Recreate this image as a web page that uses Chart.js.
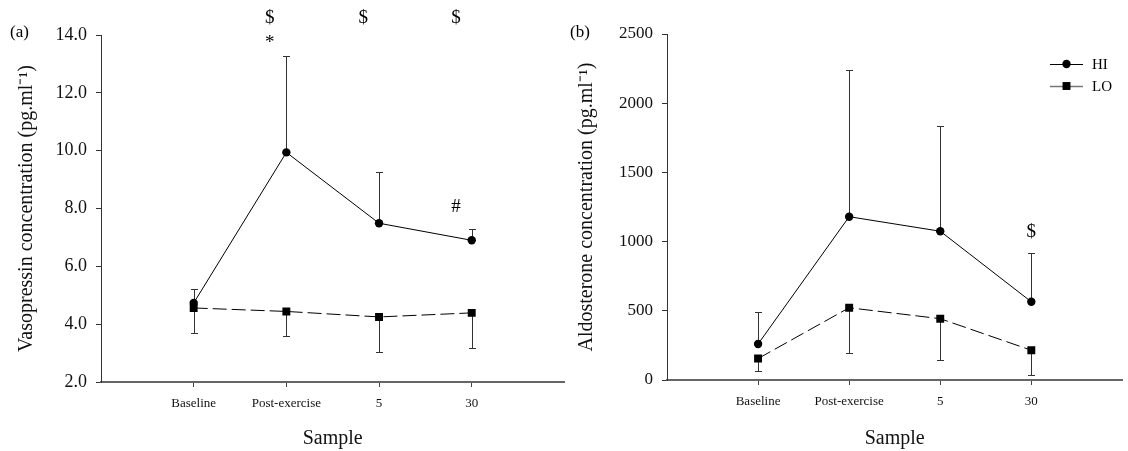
<!DOCTYPE html>
<html>
<head>
<meta charset="utf-8">
<title>Vasopressin and aldosterone by sample</title>
<script src="https://cdn.jsdelivr.net/npm/chart.js@4.4.0/dist/chart.umd.min.js"></script>
<style>
  html, body { margin: 0; padding: 0; background: #fff; }
  #wrap { position: relative; width: 1128px; height: 451px; overflow: hidden; }
  .pane { position: absolute; top: 0; height: 451px; }
  #paneA { left: 0; width: 570px; }
  #paneB { left: 560px; width: 568px; }
</style>
</head>
<body>
<div id="wrap">
  <div class="pane" id="paneA"><canvas id="chartA" width="570" height="451"></canvas></div>
  <div class="pane" id="paneB"><canvas id="chartB" width="568" height="451"></canvas></div>
</div>
<script>
// ---- data ----
const samples = ['Baseline', 'Post-exercise', '5', '30'];
const groupNames = ['HI', 'LO'];

// (a) vasopressin, pg.ml-1 (HI: mean + upper SD, LO: mean - lower SD)
const vasoHI = [4.73, 9.94, 7.49, 6.90];
const vasoHIErr = [0.47, 3.33, 1.78, 0.39];
const vasoLO = [4.56, 4.44, 4.25, 4.39];
const vasoLOErr = [0.87, 0.84, 1.21, 1.20];
const vasoTicks = [2, 4, 6, 8, 10, 12, 14];

// (b) aldosterone, pg.ml-1
const aldoHI = [260, 1180, 1075, 565];
const aldoHIErr = [230, 1057, 757, 350];
const aldoLO = [155, 522, 443, 215];
const aldoLOErr = [87, 325, 301, 182];
const aldoTicks = [0, 500, 1000, 1500, 2000, 2500];

// significance symbols: text, x (sample index), y (axis value)
const vasoNoteText = ['$', '$', '$', '*', '#'];
const vasoNoteX = [0.82, 1.83, 2.83, 0.82, 2.83];
const vasoNoteY = [14.58, 14.58, 14.58, 13.74, 8.06];
const aldoNoteText = ['$'];
const aldoNoteX = [3];
const aldoNoteY = [1070];

// ---- drawing helpers ----
const SERIF = '"Liberation Serif", "Times New Roman", serif';

function points(values) {
  return values.map((v, i) => ({ x: i, y: v }));
}

function groupDatasets(hi, hiErr, lo, loErr) {
  return [
    {
      label: groupNames[0], data: points(hi), err: hiErr, errDir: 1,
      borderColor: '#000', borderWidth: 1, tension: 0, fill: false,
      pointStyle: 'circle', pointRadius: 4.2, pointBackgroundColor: '#000',
      pointBorderWidth: 0, pointHoverRadius: 4.2
    },
    {
      label: groupNames[1], data: points(lo), err: loErr, errDir: -1,
      borderColor: '#000', borderWidth: 1, borderDash: [14, 5], tension: 0, fill: false,
      pointStyle: 'rect', pointRadius: 5.6, pointBackgroundColor: '#000',
      pointBorderWidth: 0, pointHoverRadius: 5.6
    }
  ];
}

// one-sided error bars, drawn beneath the lines and markers
const errorBars = {
  id: 'errorBars',
  beforeDatasetsDraw(chart) {
    const { ctx, scales: { x, y } } = chart;
    ctx.save();
    ctx.strokeStyle = '#333';
    ctx.lineWidth = 1;
    chart.data.datasets.forEach(ds => {
      ds.data.forEach((p, i) => {
        const px = Math.round(x.getPixelForValue(p.x)) + 0.5;
        const y0 = y.getPixelForValue(p.y);
        const y1 = Math.round(y.getPixelForValue(p.y + ds.errDir * ds.err[i])) + 0.5;
        ctx.beginPath();
        ctx.moveTo(px, y0);
        ctx.lineTo(px, y1);
        ctx.moveTo(px - 3.5, y1);
        ctx.lineTo(px + 3.5, y1);
        ctx.stroke();
      });
    });
    ctx.restore();
  }
};

// panel tag, significance symbols and the optional line+marker key
const annotations = {
  id: 'annotations',
  afterDraw(chart, args, opts) {
    const { ctx, scales: { x, y } } = chart;
    ctx.save();
    ctx.fillStyle = '#000';
    ctx.textBaseline = 'middle';

    ctx.font = '17px ' + SERIF;
    ctx.textAlign = 'left';
    ctx.fillText(opts.tag, opts.tagX, opts.tagY);

    ctx.font = '19px ' + SERIF;
    ctx.textAlign = 'center';
    opts.noteText.forEach((t, i) => {
      ctx.fillText(t, x.getPixelForValue(opts.noteX[i]), y.getPixelForValue(opts.noteY[i]));
    });

    if (opts.key) {
      const k = opts.key;
      chart.data.datasets.forEach((ds, i) => {
        const cy = k.y + i * k.gap;
        ctx.beginPath();
        ctx.strokeStyle = i === 0 ? '#000' : '#777';
        ctx.lineWidth = i === 0 ? 1 : 1.5;
        ctx.moveTo(k.x, cy + 0.5);
        ctx.lineTo(k.x + k.len, cy + 0.5);
        ctx.stroke();
        const mx = k.x + k.len / 2;
        ctx.fillStyle = '#000';
        ctx.beginPath();
        if (ds.pointStyle === 'rect') {
          const s = ds.pointRadius * Math.SQRT1_2;
          ctx.rect(mx - s, cy - s, 2 * s, 2 * s);
        } else {
          ctx.arc(mx, cy, ds.pointRadius, 0, Math.PI * 2);
        }
        ctx.fill();
        ctx.font = '15px ' + SERIF;
        ctx.textAlign = 'left';
        ctx.fillText(ds.label, k.x + k.len + 9, cy + 1);
      });
    }
    ctx.restore();
  }
};

function panel(canvasId, cfg) {
  return new Chart(document.getElementById(canvasId), {
    type: 'line',
    data: { datasets: groupDatasets(cfg.hi, cfg.hiErr, cfg.lo, cfg.loErr) },
    plugins: [errorBars, annotations],
    options: {
      responsive: false,
      animation: false,
      events: [],
      layout: { padding: { top: cfg.top, right: cfg.right, left: 0, bottom: 0 } },
      plugins: {
        legend: { display: false },
        tooltip: { enabled: false },
        annotations: {
          tag: cfg.tag, tagX: 10, tagY: 33,
          noteText: cfg.noteText, noteX: cfg.noteX, noteY: cfg.noteY,
          key: cfg.key || null
        }
      },
      scales: {
        x: {
          type: 'linear', min: -1, max: 4,
          afterBuildTicks: s => { s.ticks = samples.map((_, i) => ({ value: i })); },
          afterFit: s => { s.height = cfg.xAxisHeight; },
          grid: { display: true, drawOnChartArea: false, drawTicks: true, tickLength: 5, color: '#444' },
          border: { display: true, color: '#666', width: 2 },
          ticks: {
            callback: v => samples[v], autoSkip: false, maxRotation: 0,
            font: { family: SERIF, size: 13 }, color: '#111', padding: 9
          },
          title: {
            display: true, text: 'Sample', color: '#111',
            font: { family: SERIF, size: 20 }, padding: { top: 0, bottom: 0 }
          }
        },
        y: {
          type: 'linear', min: cfg.ticks[0], max: cfg.ticks[cfg.ticks.length - 1],
          afterBuildTicks: s => { s.ticks = cfg.ticks.map(v => ({ value: v })); },
          afterFit: s => { s.width = cfg.yAxisWidth; },
          grid: { display: true, drawOnChartArea: false, drawTicks: true, tickLength: 5, color: '#333' },
          border: { display: true, color: '#333', width: 1 },
          ticks: {
            callback: cfg.tickFormat,
            font: { family: SERIF, size: cfg.tickSize }, color: '#111', padding: 9
          },
          title: {
            display: true, text: cfg.yTitle, color: '#111',
            font: { family: SERIF, size: 20 }, padding: { top: 15, bottom: 0 }
          }
        }
      }
    }
  });
}

panel('chartA', {
  hi: vasoHI, hiErr: vasoHIErr, lo: vasoLO, loErr: vasoLOErr,
  ticks: vasoTicks, tickFormat: v => Number(v).toFixed(1), tickSize: 18,
  yTitle: 'Vasopressin concentration (pg.ml⁻¹)',
  tag: '(a)', noteText: vasoNoteText, noteX: vasoNoteX, noteY: vasoNoteY,
  top: 35, right: 5, yAxisWidth: 101, xAxisHeight: 69
});

panel('chartB', {
  hi: aldoHI, hiErr: aldoHIErr, lo: aldoLO, loErr: aldoLOErr,
  ticks: aldoTicks, tickFormat: v => String(v), tickSize: 17,
  yTitle: 'Aldosterone concentration (pg.ml⁻¹)',
  tag: '(b)', noteText: aldoNoteText, noteX: aldoNoteX, noteY: aldoNoteY,
  key: { x: 490, y: 64, gap: 22, len: 33 },
  top: 34, right: 0, yAxisWidth: 107, xAxisHeight: 71
});
</script>
</body>
</html>
